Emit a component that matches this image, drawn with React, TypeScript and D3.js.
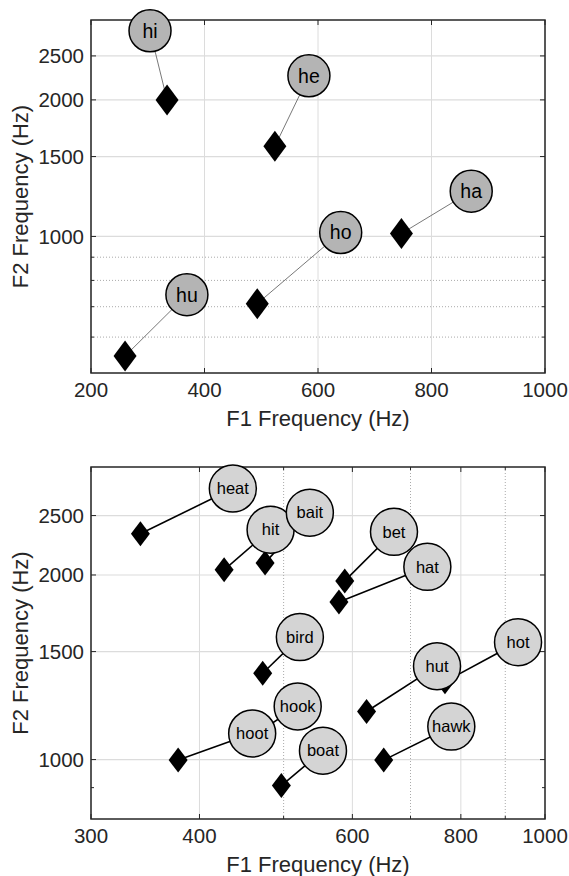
import * as d3 from "d3";

// top panel: the five "h_" vowels
const topWords = ["hi", "he", "ha", "ho", "hu"];
const topF1 = [334, 524, 747, 493, 260];
const topF2 = [2000, 1580, 1015, 711, 545];
const topLabelF1 = [304, 584, 870, 640, 369];
const topLabelF2 = [2840, 2260, 1258, 1020, 744];

// bottom panel: "h_d" style words
const botWords = ["heat", "hit", "bait", "bet", "hat", "bird", "hut", "hot", "hook", "hoot", "boat", "hawk"];
const botF1 = [342, 427, 476, 588, 579, 473, 623, 767, 469, 378, 497, 652];
const botF2 = [2335, 2039, 2093, 1956, 1807, 1383, 1198, 1340, 1111, 998, 907, 998];
const botLabelF1 = [437, 483, 536, 670, 732, 522, 751, 931, 519, 460, 555, 780];
const botLabelF2 = [2767, 2371, 2527, 2352, 2062, 1584, 1420, 1554, 1221, 1103, 1034, 1132];

const topXTicks = [200, 400, 600, 800, 1000];
const topYTicks = [1000, 1500, 2000, 2500];
const topYMinor = [600, 700, 800, 900];
const botXTicks = [300, 400, 600, 800, 1000];
const botXMinor = [500, 700, 900];
const botYTicks = [1000, 1500, 2000, 2500];
const botYMinor = [900];

const FONT = "'Liberation Sans', Arial, Helvetica, sans-serif";
const INK = "#262626";
const left = 91, right = 545;

function Panel({x, y, top, bottom, xTicks, xMinor, xMinorGrid, yTicks, yMinor, yMinorGrid,
                 words, f1, f2, lf1, lf2, r, dw, dh, fill, lineW, lineC, labelSize}: any) {
    const diamond = (cx: number, cy: number) =>
        `M${cx},${cy - dh}L${cx + dw},${cy}L${cx},${cy + dh}L${cx - dw},${cy}Z`;
    return (
        <g>
            {/* grid */}
            {xTicks.map((t: number) => (
                <line key={"gx" + t} x1={x(t)} x2={x(t)} y1={top} y2={bottom} stroke="#dcdcdc" strokeWidth={1}/>
            ))}
            {yTicks.map((t: number) => (
                <line key={"gy" + t} x1={left} x2={right} y1={y(t)} y2={y(t)} stroke="#dcdcdc" strokeWidth={1.2}/>
            ))}
            {xMinorGrid && xMinor.map((t: number) => (
                <line key={"mx" + t} x1={x(t)} x2={x(t)} y1={top} y2={bottom} stroke="#aaa" strokeWidth={1} strokeDasharray="1,2"/>
            ))}
            {yMinorGrid && yMinor.map((t: number) => (
                <line key={"my" + t} x1={left} x2={right} y1={y(t)} y2={y(t)} stroke="#aaa" strokeWidth={1} strokeDasharray="1,2"/>
            ))}
            {/* box and inward ticks */}
            <rect x={left} y={top} width={right - left} height={bottom - top} fill="none" stroke={INK} strokeWidth={1.5}/>
            {xTicks.map((t: number) => (
                <g key={"tx" + t}>
                    <line x1={x(t)} x2={x(t)} y1={bottom} y2={bottom - 5} stroke={INK}/>
                    <line x1={x(t)} x2={x(t)} y1={top} y2={top + 5} stroke={INK}/>
                    <text x={x(t)} y={bottom + 24} textAnchor="middle" fontSize={20.5} fill={INK}>{t}</text>
                </g>
            ))}
            {xMinor.map((t: number) => (
                <g key={"tmx" + t}>
                    <line x1={x(t)} x2={x(t)} y1={bottom} y2={bottom - 3} stroke={INK}/>
                    <line x1={x(t)} x2={x(t)} y1={top} y2={top + 3} stroke={INK}/>
                </g>
            ))}
            {yTicks.map((t: number) => (
                <g key={"ty" + t}>
                    <line x1={left} x2={left + 5} y1={y(t)} y2={y(t)} stroke={INK}/>
                    <line x1={right} x2={right - 5} y1={y(t)} y2={y(t)} stroke={INK}/>
                    <text x={left - 7} y={y(t)} dy="0.36em" textAnchor="end" fontSize={20.5} fill={INK}>{t}</text>
                </g>
            ))}
            {yMinor.map((t: number) => (
                <g key={"tmy" + t}>
                    <line x1={left} x2={left + 3} y1={y(t)} y2={y(t)} stroke={INK}/>
                    <line x1={right} x2={right - 3} y1={y(t)} y2={y(t)} stroke={INK}/>
                </g>
            ))}
            <text x={(left + right) / 2} y={bottom + 53} textAnchor="middle" fontSize={22} fill={INK}>F1 Frequency (Hz)</text>
            <text transform={`translate(28,${(top + bottom) / 2}) rotate(-90)`} textAnchor="middle" fontSize={22} fill={INK}>F2 Frequency (Hz)</text>
            {/* connectors, markers, labels */}
            {words.map((w: string, i: number) => (
                <line key={"c" + w} x1={x(f1[i])} y1={y(f2[i])} x2={x(lf1[i])} y2={y(lf2[i])} stroke={lineC} strokeWidth={lineW}/>
            ))}
            {words.map((w: string, i: number) => (
                <path key={"d" + w} d={diamond(x(f1[i]), y(f2[i]))} fill="#000"/>
            ))}
            {words.map((w: string, i: number) => (
                <g key={"l" + w}>
                    <circle cx={x(lf1[i])} cy={y(lf2[i])} r={r} fill={fill} stroke="#000" strokeWidth={1.5}/>
                    <text x={x(lf1[i])} y={y(lf2[i])} dy="0.35em" textAnchor="middle" fontSize={labelSize} fill="#000">{w}</text>
                </g>
            ))}
        </g>
    );
}

export default function App() {
    const topX = d3.scaleLinear().domain([200, 1000]).range([left, right]);
    const topY = d3.scaleLog().domain([500, 3000]).range([373, 20]);
    const botX = d3.scaleLog().domain([300, 1000]).range([left, right]);
    const botY = d3.scaleLog().domain([800, 3000]).range([819, 467]);

    return (
        <svg width={569} height={876} style={{position: "absolute", left: 0, top: 0, background: "#fff"}}
             fontFamily={FONT}>
            <rect width={569} height={876} fill="#fff"/>
            <Panel x={topX} y={topY} top={20} bottom={373}
                   xTicks={topXTicks} xMinor={[]} xMinorGrid={false}
                   yTicks={topYTicks} yMinor={topYMinor} yMinorGrid={true}
                   words={topWords} f1={topF1} f2={topF2} lf1={topLabelF1} lf2={topLabelF2}
                   r={21} dw={11.5} dh={15.5} fill="#b4b4b4" lineW={0.8} lineC="#555" labelSize={19.5}/>
            <Panel x={botX} y={botY} top={467} bottom={819}
                   xTicks={botXTicks} xMinor={botXMinor} xMinorGrid={true}
                   yTicks={botYTicks} yMinor={botYMinor} yMinorGrid={false}
                   words={botWords} f1={botF1} f2={botF2} lf1={botLabelF1} lf2={botLabelF2}
                   r={23.5} dw={9.5} dh={12.5} fill="#d4d4d4" lineW={1.6} lineC="#000" labelSize={16.5}/>
        </svg>
    );
}
